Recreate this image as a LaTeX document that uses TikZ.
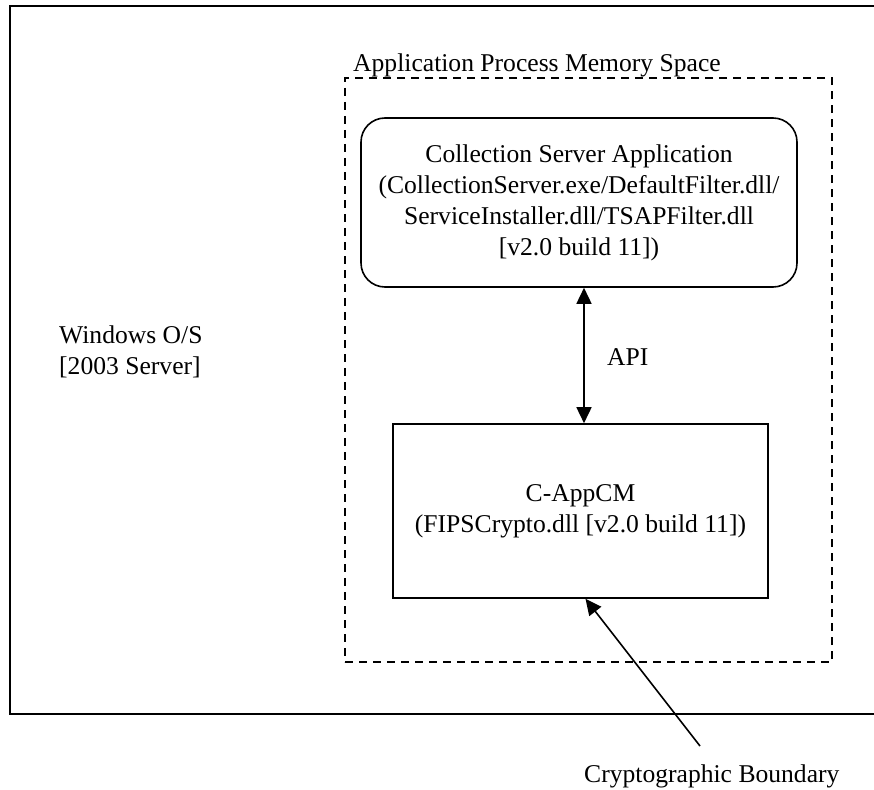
\documentclass[tikz,border=0pt]{standalone}
\usepackage{fontspec}
\setmainfont{Liberation Serif}
\usetikzlibrary{arrows.meta}
\begin{document}
\begin{tikzpicture}[x=1pt,y=-1pt,
  txt/.style={font=\fontsize{25.6}{31}\selectfont, inner sep=0pt},
  boxline/.style={draw, line width=1.6pt, inner sep=0pt},
  conn/.style={line width=1.6pt},
  tip/.style={-{Triangle[length=16pt,width=15pt]}}]
\useasboundingbox (0,0) rectangle (874,789);
% outer frame (Windows O/S), right edge beyond the picture
\draw[line width=2pt] (874,6) -- (10,6) -- (10,714) -- (874,714);
% dashed memory space
\node[draw, dash pattern=on 8pt off 6pt, line width=1.8pt, minimum width=487pt, minimum height=584pt, inner sep=0pt] (ams) at (588.5,370) {};
\node[txt, anchor=base west] (amslabel) at (353,72) {Application Process Memory Space};
% application
\node[boxline, rounded corners=24pt, minimum width=436pt, minimum height=169pt, txt, align=center] (csa) at (579,202.5)
  {Collection Server Application\\(CollectionServer.exe/DefaultFilter.dll/\\ServiceInstaller.dll/TSAPFilter.dll\\{}[v2.0 build 11])};
% crypto module
\node[boxline, minimum width=375pt, minimum height=174pt, align=center, txt] (appcm) at (580.5,511)
  {C-AppCM\\(FIPSCrypto.dll [v2.0 build 11])};
% API connector
\draw[conn, {Triangle[length=16pt,width=15pt]}-{Triangle[length=16pt,width=15pt]}] ([xshift=5pt]csa.south) -- ([xshift=3.5pt]appcm.north);
\node[txt, anchor=base west] (api) at (607,365) {API};
% Windows label
\node[txt, anchor=base west, align=left] (win) at (59,374) {Windows O/S\\{}[2003 Server]};
% Cryptographic boundary
\node[txt, anchor=base west] (cb) at (584,782) {Cryptographic Boundary};
\coordinate (cbtail) at (700,746);
\draw[conn, tip] (cbtail) -- ([xshift=5pt]appcm.south);
\end{tikzpicture}
\end{document}
